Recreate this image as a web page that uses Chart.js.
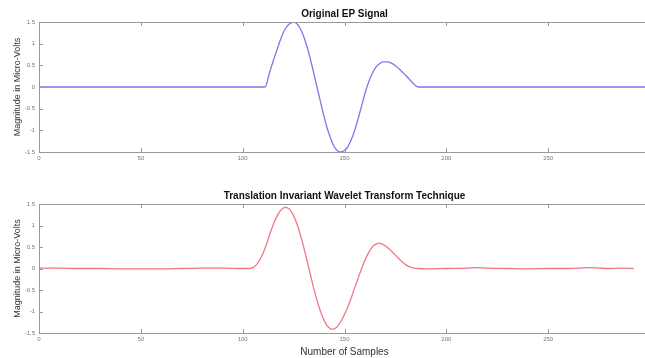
<!DOCTYPE html>
<html><head><meta charset="utf-8">
<script src="https://cdn.jsdelivr.net/npm/chart.js@4"></script>
<style>
html,body{margin:0;padding:0;background:#fff;overflow:hidden;width:645px;height:358px;position:relative}
.box{position:absolute;left:0;width:660px}
#b1{top:0;height:180px}
#b2{top:180px;height:178px}
</style></head><body>
<div class="box" id="b1"><canvas id="c1"></canvas></div>
<div class="box" id="b2"><canvas id="c2"></canvas></div>
<script>
const xTicks=[0,50,100,150,200,250,300];
const yTicks=[-1.5,-1,-0.5,0,0.5,1,1.5];
const titles=['Original EP Signal','Translation Invariant Wavelet Transform Technique'];
const xLabel='Number of Samples';
const yLabel='Magnitude in Micro-Volts';

// Original EP signal (samples, micro-volts)
const epX=[0,111,113,115,117,119,121,123,125,127,129,131,133,135,137,139,141,143,145,147,148,149,151,153,155,157,159,161,163,165,167,169,171,173,175,177,179,181,183,185,186,300];
const epY=[0,0,0.3,0.6,0.88,1.15,1.35,1.46,1.5,1.44,1.28,1.02,0.69,0.3,-0.1,-0.5,-0.87,-1.16,-1.38,-1.49,-1.5,-1.49,-1.42,-1.25,-1.0,-0.68,-0.33,0,0.25,0.43,0.53,0.58,0.58,0.55,0.49,0.41,0.32,0.22,0.12,0.03,0,0];

// Translation invariant wavelet transform output
const tiX=[0,10,20,30,40,50,60,70,80,90,100,103,105,107,109,111,113,115,117,119,121,123,125,127,129,131,133,135,137,139,141,143,144,146,148,150,152,154,156,158,160,162,164,166,167,168,170,172,174,176,178,180,182,184,186,190,200,210,215,220,230,240,250,260,270,275,280,285,292];
const tiY=[0.01,0.01,0,0,-0.01,-0.01,-0.01,0,0.01,0.01,0,0,0.02,0.1,0.25,0.47,0.75,1.02,1.23,1.37,1.42,1.38,1.23,0.99,0.67,0.3,-0.09,-0.48,-0.82,-1.1,-1.3,-1.4,-1.41,-1.37,-1.25,-1.07,-0.85,-0.59,-0.32,-0.05,0.19,0.38,0.52,0.58,0.59,0.58,0.53,0.45,0.36,0.26,0.17,0.09,0.04,0.01,0,-0.01,0,0.01,0.02,0.01,0,-0.01,0,0,0.02,0.01,0,0.01,0];

Chart.defaults.font.family='"Liberation Sans", Arial, sans-serif';

const frame={id:'frame',afterDraw(ch,args,opts){
  const {ctx,chartArea:a,scales:{x,y}}=ch;
  ctx.save();
  ctx.strokeStyle='#999';ctx.lineWidth=1;
  ctx.strokeRect(Math.round(a.left)+0.5,Math.round(a.top)+0.5,Math.round(a.right-a.left),Math.round(a.bottom-a.top));
  const L=4;
  ctx.beginPath();
  x.ticks.forEach((t,i)=>{const px=Math.round(x.getPixelForTick(i))+0.5;ctx.moveTo(px,a.bottom);ctx.lineTo(px,a.bottom-L);ctx.moveTo(px,a.top);ctx.lineTo(px,a.top+L);});
  y.ticks.forEach((t,i)=>{const py=Math.round(y.getPixelForTick(i))+0.5;ctx.moveTo(a.left,py);ctx.lineTo(a.left+L,py);ctx.moveTo(a.right,py);ctx.lineTo(a.right-L,py);});
  ctx.stroke();
  ctx.fillStyle='#111';ctx.font='bold 10px "Liberation Sans", Arial, sans-serif';
  ctx.textAlign='center';ctx.textBaseline='alphabetic';
  ctx.fillText(opts.text,(a.left+a.right)/2,a.top-5);
  ctx.restore();
}};

function make(id,xs,ys,color,title,padTop,xH,withXTitle){
  return new Chart(document.getElementById(id),{
    type:'line',
    data:{datasets:[{data:xs.map((v,i)=>({x:v,y:ys[i]})),borderColor:color,borderWidth:1.3,pointRadius:0,cubicInterpolationMode:'monotone',fill:false}]},
    options:{
      responsive:true,maintainAspectRatio:false,animation:false,events:[],
      layout:{padding:{left:0,right:10,top:padTop,bottom:0}},
      plugins:{legend:{display:false},tooltip:{enabled:false},frame:{text:title}},
      scales:{
        x:{type:'linear',min:0,max:300,
          afterBuildTicks:s=>{s.ticks=xTicks.map(v=>({value:v}));},
          grid:{display:false,drawTicks:false},border:{display:false},
          ticks:{font:{size:6},color:'#777',padding:3,maxRotation:0,autoSkip:false,callback:v=>String(v)},
          title:{display:withXTitle,text:xLabel,font:{size:10},color:'#333',padding:{top:0,bottom:0}},
          afterFit:s=>{s.height=xH;}},
        y:{type:'linear',min:-1.5,max:1.5,
          afterBuildTicks:s=>{s.ticks=yTicks.map(v=>({value:v}));},
          grid:{display:false,drawTicks:false},border:{display:false},
          ticks:{font:{size:6},color:'#777',padding:4,autoSkip:false,callback:v=>String(v)},
          title:{display:true,text:yLabel,font:{size:9},color:'#333',padding:{top:12.5,bottom:0}},
          afterFit:s=>{s.width=39;}}
      }
    },
    plugins:[frame]
  });
}
make('c1',epX,epY,'rgb(120,120,238)',titles[0],22,28,false);
make('c2',tiX,tiY,'rgb(240,118,132)',titles[1],24,25,true);
</script>
</body></html>
